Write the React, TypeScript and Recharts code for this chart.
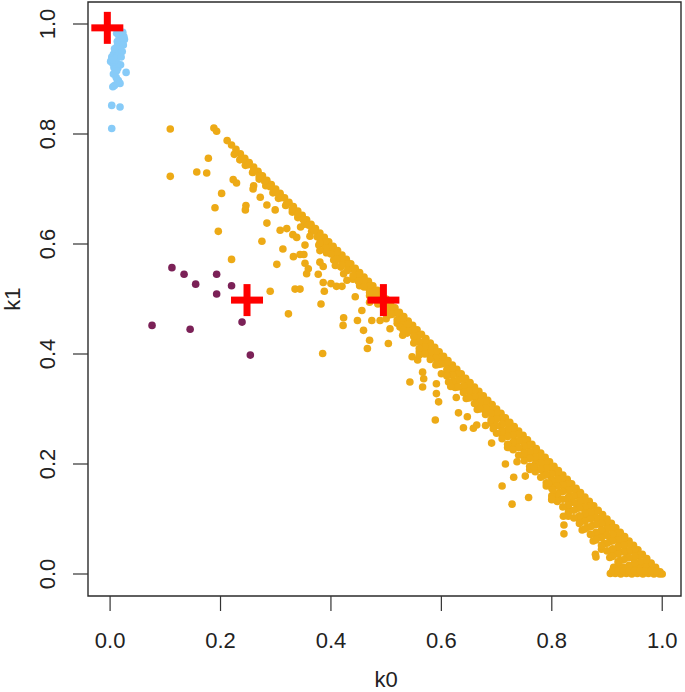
import React from 'react';
import { ScatterChart, Scatter, XAxis, YAxis, ReferenceArea } from 'recharts';

// tick positions shared by both axes
const AXIS_TICKS = [0, 0.2, 0.4, 0.6, 0.8, 1.0];

// red "+" markers
const centres: [number, number][] = [[-0.005, 0.993], [0.248, 0.498], [0.495, 0.498]];

// light blue cluster near (0, 1)
const bluePoints: [number, number][] = [
  [0.015, 0.990], [0.018, 0.985], [0.012, 0.983], [0.021, 0.980], [0.016, 0.978], [0.022, 0.975],
  [0.019, 0.971], [0.020, 0.970], [0.013, 0.968], [0.021, 0.965], [0.014, 0.962], [0.017, 0.961],
  [0.012, 0.958], [0.018, 0.955], [0.010, 0.950], [0.006, 0.945], [0.016, 0.944], [0.003, 0.940],
  [0.011, 0.940], [0.009, 0.937], [0.001, 0.932], [0.012, 0.930], [0.005, 0.928], [0.019, 0.926],
  [0.007, 0.921], [0.014, 0.920], [0.009, 0.918], [0.012, 0.915], [0.029, 0.912], [0.006, 0.909],
  [0.011, 0.903], [0.013, 0.898], [0.015, 0.897], [0.018, 0.892], [0.008, 0.888], [0.005, 0.886],
  [0.003, 0.852], [0.018, 0.849], [0.003, 0.810],
  [0.025, 0.977], [0.026, 0.972], [0.024, 0.962], [0.022, 0.950], [0.004, 0.935], [0.020, 0.940],
  [0.023, 0.985], [0.008, 0.955],
];

// dark purple group
const purplePoints: [number, number][] = [
  [0.112, 0.557], [0.134, 0.545], [0.155, 0.527], [0.193, 0.545], [0.220, 0.524],
  [0.193, 0.509], [0.076, 0.452], [0.145, 0.445], [0.239, 0.458], [0.254, 0.398],
];

// orange: points sitting on the k0 + k1 = 1 edge
const orangeEdge: [number, number][] = [
  [0.212, 0.788], [0.220, 0.780], [0.228, 0.772], [0.236, 0.764], [0.244, 0.756], [0.252, 0.748],
  [0.260, 0.740], [0.268, 0.732], [0.276, 0.724], [0.284, 0.716], [0.292, 0.708], [0.300, 0.700],
  [0.308, 0.692], [0.316, 0.684], [0.324, 0.676], [0.332, 0.668], [0.340, 0.660], [0.348, 0.652],
  [0.356, 0.644], [0.364, 0.636], [0.372, 0.628], [0.380, 0.620], [0.388, 0.612], [0.396, 0.604],
  [0.404, 0.596], [0.412, 0.588], [0.420, 0.580], [0.428, 0.572], [0.436, 0.564], [0.444, 0.556],
  [0.452, 0.548], [0.460, 0.540], [0.468, 0.532], [0.476, 0.524], [0.484, 0.516], [0.492, 0.508],
  [0.500, 0.500], [0.508, 0.492], [0.516, 0.484], [0.524, 0.476], [0.532, 0.468], [0.540, 0.460],
  [0.548, 0.452], [0.556, 0.444], [0.564, 0.436], [0.572, 0.428], [0.580, 0.420], [0.588, 0.412],
  [0.596, 0.404], [0.604, 0.396], [0.612, 0.388], [0.620, 0.380], [0.628, 0.372], [0.636, 0.364],
  [0.644, 0.356], [0.652, 0.348], [0.660, 0.340], [0.668, 0.332], [0.676, 0.324], [0.684, 0.316],
  [0.692, 0.308], [0.700, 0.300], [0.708, 0.292], [0.716, 0.284], [0.724, 0.276], [0.732, 0.268],
  [0.740, 0.260], [0.748, 0.252], [0.756, 0.244], [0.764, 0.236], [0.772, 0.228], [0.780, 0.220],
  [0.788, 0.212], [0.796, 0.204], [0.804, 0.196], [0.812, 0.188], [0.820, 0.180], [0.828, 0.172],
  [0.836, 0.164], [0.844, 0.156], [0.852, 0.148], [0.860, 0.140], [0.868, 0.132], [0.876, 0.124],
  [0.884, 0.116], [0.892, 0.108], [0.900, 0.100], [0.908, 0.092], [0.916, 0.084], [0.924, 0.076],
  [0.932, 0.068], [0.940, 0.060], [0.948, 0.052], [0.956, 0.044], [0.964, 0.036], [0.972, 0.028],
  [0.980, 0.020], [0.988, 0.012], [0.996, 0.004], [1.000, 0.000],
];

// orange: the dense band just under the edge
const orangeBand: [number, number][] = [
  [0.225, 0.763], [0.235, 0.753], [0.245, 0.743], [0.258, 0.730], [0.270, 0.718], [0.282, 0.706],
  [0.295, 0.693], [0.305, 0.683], [0.318, 0.670], [0.330, 0.658], [0.340, 0.648], [0.352, 0.636],
  [0.365, 0.623], [0.375, 0.613], [0.388, 0.600], [0.400, 0.588], [0.410, 0.578], [0.420, 0.568],
  [0.432, 0.556], [0.445, 0.543], [0.455, 0.533], [0.468, 0.520], [0.480, 0.508], [0.490, 0.498],
  [0.500, 0.488], [0.512, 0.476], [0.525, 0.463], [0.535, 0.453], [0.545, 0.443], [0.556, 0.432],
  [0.568, 0.420], [0.578, 0.410], [0.590, 0.398], [0.600, 0.388], [0.612, 0.376], [0.622, 0.366],
  [0.634, 0.354], [0.645, 0.343], [0.655, 0.333], [0.668, 0.320], [0.678, 0.310], [0.690, 0.298],
  [0.700, 0.288], [0.712, 0.276], [0.722, 0.266], [0.734, 0.254], [0.745, 0.243], [0.755, 0.233],
  [0.766, 0.222], [0.778, 0.210], [0.790, 0.198], [0.800, 0.188], [0.812, 0.176], [0.822, 0.166],
  [0.834, 0.154], [0.845, 0.143], [0.855, 0.133], [0.866, 0.122], [0.878, 0.110], [0.890, 0.098],
  [0.900, 0.088], [0.912, 0.076], [0.922, 0.066], [0.934, 0.054], [0.945, 0.043], [0.955, 0.033],
  [0.966, 0.022], [0.976, 0.012],
  [0.345, 0.631], [0.362, 0.614], [0.378, 0.598], [0.392, 0.584], [0.405, 0.571], [0.418, 0.558],
  [0.440, 0.536], [0.452, 0.524], [0.470, 0.506], [0.485, 0.491], [0.505, 0.471], [0.520, 0.456],
  [0.538, 0.438], [0.552, 0.424], [0.565, 0.411], [0.580, 0.396], [0.595, 0.381], [0.610, 0.366],
  [0.625, 0.351], [0.640, 0.336], [0.652, 0.324], [0.665, 0.311], [0.680, 0.296], [0.695, 0.281],
  [0.708, 0.268], [0.720, 0.256], [0.735, 0.241], [0.748, 0.228], [0.760, 0.216], [0.772, 0.204],
  [0.785, 0.191], [0.798, 0.178], [0.810, 0.166], [0.822, 0.154], [0.835, 0.141], [0.848, 0.128],
  [0.860, 0.116], [0.872, 0.104], [0.885, 0.091], [0.898, 0.078], [0.910, 0.066], [0.922, 0.054],
  [0.935, 0.041], [0.948, 0.028], [0.960, 0.016],
  [0.470, 0.494], [0.500, 0.464], [0.530, 0.434], [0.560, 0.404], [0.600, 0.364], [0.625, 0.339],
  [0.645, 0.319], [0.665, 0.299], [0.690, 0.274], [0.710, 0.254], [0.730, 0.234], [0.750, 0.214],
  [0.770, 0.194], [0.785, 0.179], [0.800, 0.164], [0.815, 0.149], [0.830, 0.134], [0.845, 0.119],
  [0.860, 0.104], [0.875, 0.089], [0.890, 0.074], [0.905, 0.059], [0.920, 0.044], [0.935, 0.029],
  [0.948, 0.016],
  [0.680, 0.270], [0.720, 0.230], [0.760, 0.190], [0.790, 0.160], [0.810, 0.140], [0.830, 0.120],
  [0.850, 0.100], [0.865, 0.085], [0.880, 0.070], [0.895, 0.055], [0.910, 0.040], [0.925, 0.025],
  [0.940, 0.010],
  [0.800, 0.135], [0.830, 0.105], [0.855, 0.080], [0.875, 0.060], [0.890, 0.045], [0.905, 0.030],
  [0.920, 0.015],
  [0.906, 0.001], [0.915, 0.001], [0.925, 0.000], [0.935, 0.001], [0.945, 0.000], [0.955, 0.001],
  [0.965, 0.000], [0.975, 0.001], [0.985, 0.000], [0.995, 0.000],
  [0.912, 0.012], [0.928, 0.011], [0.942, 0.012], [0.958, 0.011], [0.972, 0.012], [0.985, 0.010],
];

// orange: extra points packed inside the band, where it reads as solid
const orangeBandFill: [number, number][] = [
  [0.24, 0.754], [0.25, 0.744], [0.26, 0.734], [0.27, 0.724], [0.28, 0.714], [0.29, 0.704],
  [0.30, 0.694], [0.31, 0.684], [0.32, 0.674], [0.33, 0.664], [0.34, 0.654], [0.35, 0.644],
  [0.36, 0.634], [0.37, 0.624], [0.38, 0.614], [0.39, 0.604], [0.40, 0.594], [0.41, 0.584],
  [0.42, 0.574], [0.43, 0.564], [0.44, 0.554], [0.45, 0.544], [0.46, 0.534], [0.47, 0.524],
  [0.48, 0.514], [0.49, 0.504], [0.50, 0.494], [0.51, 0.484], [0.52, 0.474], [0.53, 0.464],
  [0.54, 0.454], [0.55, 0.444], [0.56, 0.434], [0.57, 0.424], [0.58, 0.414], [0.59, 0.404],
  [0.60, 0.394], [0.61, 0.384], [0.62, 0.374], [0.63, 0.364], [0.64, 0.354], [0.65, 0.344],
  [0.66, 0.334], [0.67, 0.324], [0.68, 0.314], [0.69, 0.304], [0.70, 0.294], [0.71, 0.284],
  [0.72, 0.274], [0.73, 0.264], [0.74, 0.254], [0.75, 0.244], [0.76, 0.234], [0.77, 0.224],
  [0.78, 0.214], [0.79, 0.204], [0.80, 0.194], [0.81, 0.184], [0.82, 0.174], [0.83, 0.164],
  [0.84, 0.154], [0.85, 0.144], [0.86, 0.134], [0.87, 0.124], [0.88, 0.114], [0.89, 0.104],
  [0.90, 0.094], [0.91, 0.084], [0.92, 0.074], [0.93, 0.064], [0.94, 0.054], [0.95, 0.044],
  [0.96, 0.034], [0.97, 0.024], [0.98, 0.014], [0.99, 0.004],
  [0.38, 0.602], [0.39, 0.592], [0.40, 0.582], [0.41, 0.572], [0.42, 0.562], [0.43, 0.552],
  [0.44, 0.542], [0.45, 0.532], [0.46, 0.522], [0.47, 0.512], [0.48, 0.502], [0.49, 0.492],
  [0.50, 0.482], [0.51, 0.472], [0.52, 0.462], [0.53, 0.452], [0.54, 0.442], [0.55, 0.432],
  [0.56, 0.422], [0.57, 0.412], [0.58, 0.402], [0.59, 0.392], [0.60, 0.382], [0.61, 0.372],
  [0.62, 0.362], [0.63, 0.352], [0.64, 0.342], [0.65, 0.332], [0.66, 0.322], [0.67, 0.312],
  [0.68, 0.302], [0.69, 0.292], [0.70, 0.282], [0.71, 0.272], [0.72, 0.262], [0.73, 0.252],
  [0.74, 0.242], [0.75, 0.232], [0.76, 0.222], [0.77, 0.212], [0.78, 0.202], [0.79, 0.192],
  [0.80, 0.182], [0.81, 0.172], [0.82, 0.162], [0.83, 0.152], [0.84, 0.142], [0.85, 0.132],
  [0.86, 0.122], [0.87, 0.112], [0.88, 0.102], [0.89, 0.092], [0.90, 0.082], [0.91, 0.072],
  [0.92, 0.062], [0.93, 0.052], [0.94, 0.042], [0.95, 0.032], [0.96, 0.022], [0.97, 0.012],
  [0.55, 0.42], [0.56, 0.41], [0.57, 0.40], [0.58, 0.39], [0.59, 0.38], [0.61, 0.36],
  [0.62, 0.35], [0.63, 0.34], [0.64, 0.33], [0.65, 0.32], [0.66, 0.31], [0.67, 0.30],
  [0.68, 0.29], [0.69, 0.28], [0.70, 0.27], [0.71, 0.26], [0.72, 0.25], [0.73, 0.24],
  [0.74, 0.23], [0.75, 0.22], [0.76, 0.21], [0.77, 0.20], [0.78, 0.19], [0.79, 0.18],
  [0.80, 0.17], [0.81, 0.16], [0.82, 0.15], [0.83, 0.14], [0.84, 0.13], [0.85, 0.12],
  [0.86, 0.11], [0.87, 0.10], [0.88, 0.09], [0.89, 0.08], [0.90, 0.07], [0.91, 0.06],
  [0.92, 0.05], [0.93, 0.04], [0.94, 0.03], [0.95, 0.02], [0.96, 0.01],
  [0.70, 0.256], [0.71, 0.246], [0.72, 0.236], [0.73, 0.226], [0.74, 0.216], [0.75, 0.206],
  [0.76, 0.196], [0.77, 0.186], [0.78, 0.176], [0.79, 0.166], [0.80, 0.156], [0.81, 0.146],
  [0.82, 0.136], [0.83, 0.126], [0.84, 0.116], [0.85, 0.106], [0.86, 0.096], [0.87, 0.086],
  [0.88, 0.076], [0.89, 0.066], [0.90, 0.056], [0.91, 0.046], [0.92, 0.036], [0.93, 0.026],
  [0.94, 0.016], [0.95, 0.006],
  [0.80, 0.142], [0.81, 0.132], [0.82, 0.122], [0.83, 0.112], [0.84, 0.102], [0.85, 0.092],
  [0.86, 0.082], [0.87, 0.072], [0.88, 0.062], [0.89, 0.052], [0.90, 0.042], [0.91, 0.032],
  [0.92, 0.022], [0.93, 0.012],
  [0.91, 0.006], [0.92, 0.006], [0.93, 0.006], [0.94, 0.006], [0.95, 0.006], [0.96, 0.006],
  [0.97, 0.006], [0.98, 0.006], [0.99, 0.006],
];

// orange: scattered points further below the band
const orangeScatter: [number, number][] = [
  [0.109, 0.809], [0.188, 0.811], [0.193, 0.805], [0.109, 0.723], [0.178, 0.756], [0.157, 0.731],
  [0.175, 0.729], [0.223, 0.717], [0.229, 0.711], [0.260, 0.706], [0.259, 0.700], [0.202, 0.692],
  [0.190, 0.666], [0.246, 0.670], [0.245, 0.662], [0.272, 0.685], [0.284, 0.671], [0.299, 0.662],
  [0.284, 0.638], [0.196, 0.623], [0.275, 0.605], [0.313, 0.591], [0.220, 0.572], [0.302, 0.563],
  [0.290, 0.514], [0.335, 0.518], [0.344, 0.518], [0.323, 0.473], [0.382, 0.491], [0.385, 0.401],
  [0.308, 0.625], [0.320, 0.628], [0.331, 0.617], [0.338, 0.612], [0.332, 0.577], [0.344, 0.581],
  [0.351, 0.581], [0.353, 0.598], [0.353, 0.565], [0.359, 0.555], [0.356, 0.546], [0.377, 0.545],
  [0.380, 0.567], [0.386, 0.559], [0.380, 0.588], [0.386, 0.530], [0.400, 0.528], [0.410, 0.523],
  [0.388, 0.514], [0.408, 0.561], [0.423, 0.546], [0.420, 0.523], [0.429, 0.534], [0.444, 0.504],
  [0.456, 0.479],
  [0.423, 0.466], [0.422, 0.452], [0.448, 0.461], [0.459, 0.443], [0.470, 0.425], [0.466, 0.410],
  [0.504, 0.419], [0.474, 0.461], [0.489, 0.461], [0.507, 0.446], [0.525, 0.449], [0.531, 0.443],
  [0.547, 0.395], [0.557, 0.389], [0.560, 0.398], [0.543, 0.349], [0.566, 0.367], [0.568, 0.355],
  [0.566, 0.340], [0.591, 0.346], [0.591, 0.328], [0.595, 0.313], [0.589, 0.280], [0.613, 0.349],
  [0.617, 0.341], [0.627, 0.321], [0.631, 0.293], [0.640, 0.266], [0.647, 0.286], [0.658, 0.265],
  [0.664, 0.271], [0.694, 0.264],
  [0.691, 0.238], [0.716, 0.200], [0.731, 0.176], [0.752, 0.178], [0.710, 0.160], [0.728, 0.127],
  [0.758, 0.139], [0.737, 0.204], [0.768, 0.195], [0.794, 0.165], [0.800, 0.136], [0.802, 0.153],
  [0.821, 0.105], [0.822, 0.089], [0.822, 0.073], [0.880, 0.031], [0.879, 0.036], [0.921, 0.022],
];

const toRows = (pts: [number, number][]) => pts.map(([k0, k1]) => ({ k0, k1 }));

const FONT = '"Liberation Sans", Arial, sans-serif';
const INK = '#222';

const dot = (fill: string) => (props: any) => (
  <circle cx={props.cx} cy={props.cy} r={3.8} fill={fill} />
);

const cross = (props: any) => (
  <g fill="#ff0000">
    <rect x={props.cx - 16} y={props.cy - 3.5} width={32} height={7} />
    <rect x={props.cx - 3.5} y={props.cy - 16} width={7} height={32} />
  </g>
);

const XTick = (props: any) => (
  <text x={props.x} y={props.y + 37} textAnchor="middle" fontSize={22} fontFamily={FONT} fill={INK}>
    {Number(props.payload.value).toFixed(1)}
  </text>
);

const YTick = (props: any) => {
  const x = props.x - 18;
  return (
    <text x={x} y={props.y} transform={`rotate(-90, ${x}, ${props.y})`} textAnchor="middle"
      fontSize={22} fontFamily={FONT} fill={INK}>
      {Number(props.payload.value).toFixed(1)}
    </text>
  );
};

export default function App() {
  const orange = [...orangeEdge, ...orangeBand, ...orangeBandFill, ...orangeScatter];
  return (
    <div style={{ position: 'absolute', left: 0, top: 0, width: 685, height: 692, background: '#fff' }}>
      <ScatterChart width={685} height={692} margin={{ top: 2, right: 4, bottom: 0, left: 0 }}>
        <XAxis type="number" dataKey="k0" domain={[-0.04, 1.034]} ticks={AXIS_TICKS} interval={0}
          allowDataOverflow axisLine={false} tickSize={15} tickMargin={0}
          tickLine={{ stroke: '#333', strokeWidth: 1.2 }} tick={<XTick />} height={96} />
        <YAxis type="number" dataKey="k1" domain={[-0.04, 1.04]} ticks={AXIS_TICKS} interval={0}
          allowDataOverflow axisLine={false} tickSize={15} tickMargin={0}
          tickLine={{ stroke: '#333', strokeWidth: 1.2 }} tick={<YTick />} width={88} />
        <ReferenceArea x1={-0.04} x2={1.034} y1={-0.04} y2={1.04} fill="none" fillOpacity={0}
          stroke="#2b2b2b" strokeWidth={1.4} strokeOpacity={1} ifOverflow="visible" />
        <Scatter data={toRows(bluePoints)} shape={dot('#87cbf8')} isAnimationActive={false} />
        <Scatter data={toRows(purplePoints)} shape={dot('#7b2157')} isAnimationActive={false} />
        <Scatter data={toRows(orange)} shape={dot('#edaa16')} isAnimationActive={false} />
        <Scatter data={toRows(centres)} shape={cross} isAnimationActive={false} />
      </ScatterChart>
      <svg width={685} height={692} style={{ position: 'absolute', left: 0, top: 0, pointerEvents: 'none' }}>
        <text x={386} y={687} textAnchor="middle" fontSize={22} fontFamily={FONT} fill={INK}>k0</text>
        <text x={20} y={299} transform="rotate(-90, 20, 299)" textAnchor="middle" fontSize={22}
          fontFamily={FONT} fill={INK}>k1</text>
      </svg>
    </div>
  );
}
